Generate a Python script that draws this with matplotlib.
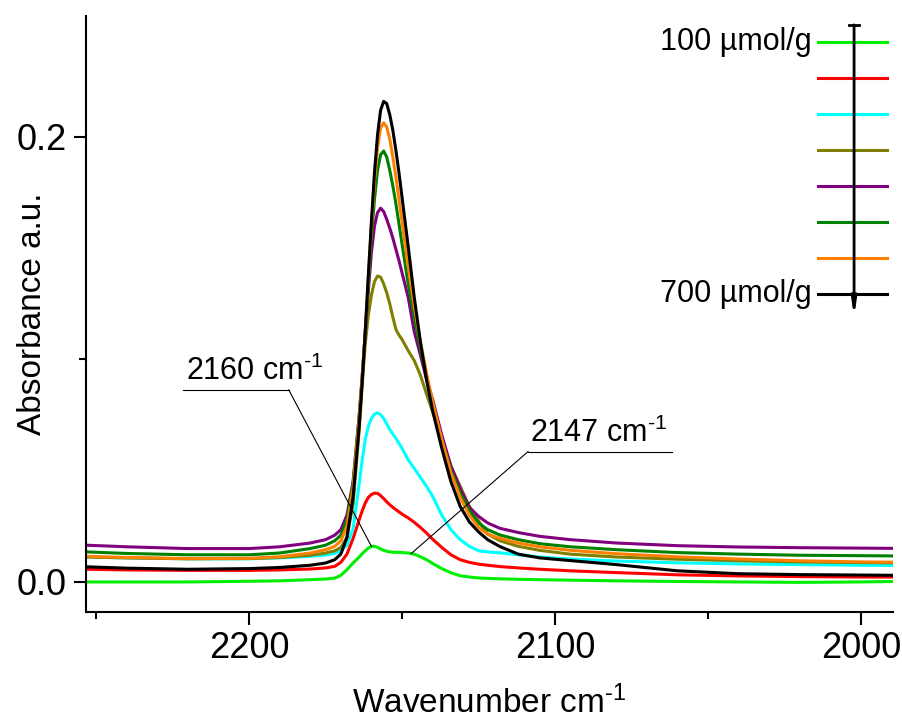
import numpy as np
import matplotlib
matplotlib.use("Agg")
import matplotlib.pyplot as plt
from matplotlib.ticker import MultipleLocator

plt.rcParams["font.family"] = ["Liberation Sans", "DejaVu Sans"]
plt.rcParams["mathtext.fontset"] = "custom"
plt.rcParams["mathtext.rm"] = "Liberation Sans"
plt.rcParams["mathtext.default"] = "regular"
plt.rcParams["axes.unicode_minus"] = False

# wavenumber grid (cm-1) shared by every spectrum
wavenumber = [2253, 2240, 2220, 2200, 2190, 2180, 2175, 2172, 2170, 2168,
              2166, 2164, 2163, 2162, 2161, 2160, 2159, 2158, 2157, 2156,
              2155, 2154, 2153, 2152, 2151, 2150, 2148, 2146, 2144, 2142,
              2140, 2137, 2134, 2131, 2128, 2125, 2122, 2118, 2112, 2105,
              2095, 2080, 2060, 2040, 2020, 2000, 1990]

abs_100 = [0.0000, 0.0000, 0.0000, 0.0003, 0.0005, 0.0010, 0.0013, 0.0017, 0.0030, 0.0055,
           0.0085, 0.0112, 0.0127, 0.0140, 0.0152, 0.0160, 0.0160, 0.0155, 0.0148, 0.0142,
           0.0138, 0.0135, 0.0134, 0.0133, 0.0133, 0.0132, 0.0130, 0.0125, 0.0113, 0.0100,
           0.0083, 0.0060, 0.0041, 0.0028, 0.0022, 0.0018, 0.0016, 0.0014, 0.0012, 0.0010,
           0.0008, 0.0005, 0.0002, 0.0000, -0.0002, 0.0000, 0.0002]
abs_200 = [0.0057, 0.0054, 0.0052, 0.0052, 0.0054, 0.0058, 0.0063, 0.0070, 0.0088, 0.0125,
           0.0195, 0.0280, 0.0320, 0.0355, 0.0380, 0.0393, 0.0399, 0.0398, 0.0388, 0.0375,
           0.0360, 0.0347, 0.0335, 0.0325, 0.0315, 0.0305, 0.0288, 0.0268, 0.0245, 0.0220,
           0.0192, 0.0155, 0.0122, 0.0100, 0.0088, 0.0080, 0.0075, 0.0069, 0.0063, 0.0057,
           0.0050, 0.0042, 0.0032, 0.0027, 0.0024, 0.0022, 0.0022]
abs_300 = [0.0112, 0.0108, 0.0104, 0.0104, 0.0108, 0.0115, 0.0121, 0.0128, 0.0140, 0.0165,
           0.0240, 0.0440, 0.0550, 0.0640, 0.0700, 0.0735, 0.0755, 0.0760, 0.0752, 0.0735,
           0.0710, 0.0685, 0.0665, 0.0645, 0.0623, 0.0600, 0.0550, 0.0510, 0.0470, 0.0430,
           0.0385, 0.0300, 0.0235, 0.0190, 0.0160, 0.0140, 0.0135, 0.0131, 0.0122, 0.0112,
           0.0103, 0.0094, 0.0086, 0.0081, 0.0078, 0.0075, 0.0074]
abs_400 = [0.0112, 0.0108, 0.0104, 0.0105, 0.0110, 0.0120, 0.0130, 0.0140, 0.0155, 0.0200,
           0.0350, 0.0680, 0.0890, 0.1070, 0.1200, 0.1290, 0.1350, 0.1375, 0.1370, 0.1340,
           0.1300, 0.1250, 0.1190, 0.1135, 0.1110, 0.1090, 0.1040, 0.0995, 0.0930, 0.0845,
           0.0765, 0.0640, 0.0520, 0.0430, 0.0340, 0.0275, 0.0215, 0.0185, 0.0160, 0.0142,
           0.0125, 0.0112, 0.0102, 0.0095, 0.0090, 0.0087, 0.0086]
abs_500 = [0.0165, 0.0158, 0.0150, 0.0150, 0.0158, 0.0175, 0.0190, 0.0210, 0.0235, 0.0300,
           0.0450, 0.0750, 0.0930, 0.1120, 0.1310, 0.1480, 0.1600, 0.1660, 0.1680, 0.1665,
           0.1630, 0.1590, 0.1545, 0.1495, 0.1445, 0.1390, 0.1280, 0.1125, 0.1020, 0.0910,
           0.0820, 0.0660, 0.0520, 0.0420, 0.0335, 0.0295, 0.0265, 0.0241, 0.0222, 0.0205,
           0.0190, 0.0175, 0.0163, 0.0157, 0.0154, 0.0152, 0.0151]
abs_600 = [0.0135, 0.0128, 0.0122, 0.0122, 0.0130, 0.0150, 0.0165, 0.0185, 0.0210, 0.0280,
           0.0440, 0.0740, 0.0920, 0.1120, 0.1340, 0.1550, 0.1720, 0.1850, 0.1920, 0.1937,
           0.1910, 0.1850, 0.1780, 0.1700, 0.1610, 0.1520, 0.1340, 0.1190, 0.1050, 0.0920,
           0.0800, 0.0640, 0.0500, 0.0400, 0.0320, 0.0265, 0.0235, 0.0211, 0.0190, 0.0172,
           0.0158, 0.0145, 0.0132, 0.0125, 0.0120, 0.0118, 0.0117]
abs_650 = [0.0115, 0.0110, 0.0105, 0.0106, 0.0113, 0.0130, 0.0145, 0.0160, 0.0185, 0.0250,
           0.0420, 0.0730, 0.0920, 0.1130, 0.1370, 0.1600, 0.1800, 0.1950, 0.2040, 0.2064,
           0.2045, 0.1990, 0.1910, 0.1820, 0.1720, 0.1620, 0.1420, 0.1240, 0.1080, 0.0940,
           0.0810, 0.0640, 0.0490, 0.0380, 0.0300, 0.0245, 0.0215, 0.0196, 0.0175, 0.0158,
           0.0142, 0.0127, 0.0113, 0.0103, 0.0095, 0.0090, 0.0089]
abs_700 = [0.0068, 0.0062, 0.0057, 0.0060, 0.0065, 0.0075, 0.0085, 0.0100, 0.0125, 0.0200,
           0.0380, 0.0700, 0.0900, 0.1130, 0.1380, 0.1620, 0.1840, 0.2010, 0.2120, 0.2160,
           0.2150, 0.2100, 0.2030, 0.1940, 0.1840, 0.1730, 0.1510, 0.1280, 0.1080, 0.0910,
           0.0770, 0.0600, 0.0450, 0.0340, 0.0270, 0.0225, 0.0190, 0.0159, 0.0125, 0.0108,
           0.0096, 0.0078, 0.0050, 0.0037, 0.0033, 0.0031, 0.0030]

spectra = [abs_100, abs_200, abs_300, abs_400, abs_500, abs_600, abs_650, abs_700]
colors = ["#00ee00", "#ff0000", "#00ffff", "#808000", "#800080", "#008000", "#ff8000", "#000000"]
legend_labels = ["100 \u00b5mol/g", "", "", "", "", "", "", "700 \u00b5mol/g"]

peak_main = 2160
peak_shoulder = 2147

unit = r"cm$^{\text{-1}}$"

fig = plt.figure(figsize=(9.03, 7.25), dpi=100)
ax = fig.add_axes([0.0952, 0.1559, 0.8938, 0.8221])

for y, c in zip(spectra, colors):
    ax.plot(wavenumber, y, color=c, lw=2.2, solid_joinstyle="round")

ax.set_xlim(2253.3, 1989.5)
ax.set_ylim(-0.0135, 0.2544)

for s in ["top", "right"]:
    ax.spines[s].set_visible(False)
for s in ["left", "bottom"]:
    ax.spines[s].set_linewidth(1.5)

ax.xaxis.set_major_locator(MultipleLocator(100))
ax.xaxis.set_minor_locator(MultipleLocator(50))
ax.yaxis.set_major_locator(MultipleLocator(0.2))
ax.yaxis.set_minor_locator(MultipleLocator(0.1))
ax.yaxis.set_major_formatter(plt.FormatStrFormatter("%.1f"))
ax.tick_params(which="major", direction="out", length=9, width=1.5, labelsize=26, pad=5)
ax.tick_params(which="minor", direction="out", length=5, width=1.5)

ax.set_xlabel("Wavenumber " + unit, fontsize=24)
ax.set_ylabel("Absorbance a.u.", fontsize=24)
ax.xaxis.set_label_coords(0.5, -0.152)
ax.xaxis.label.set_va("center")
ax.yaxis.set_label_coords(-0.066, 0.5)
ax.yaxis.label.set_va("center")

# peak annotations with underlined labels and leader lines
wn = np.array(wavenumber)[::-1]
y100 = np.array(abs_100)[::-1]
ann = [(peak_main, 2220.5, 0.0908, 0.0863, 2187.0),
       (peak_shoulder, 2108.2, 0.0631, 0.0586, 2061.8)]
for pk, tx, ty, uy, ux2 in ann:
    ax.text(tx, ty, f"{pk} " + unit, fontsize=22, ha="left", va="baseline")
    yp = np.interp(pk, wn, y100)
    if pk == peak_main:
        ax.plot([tx + 1, ux2], [uy, uy], color="black", lw=0.8)
        ax.plot([ux2, pk], [uy, yp], color="black", lw=0.8)
    else:
        ax.plot([tx + 0.6, ux2], [uy, uy], color="black", lw=0.8)
        ax.plot([tx + 0.6, pk], [uy, yp], color="black", lw=0.8)

# concentration key with arrow
x0, x1 = 0.907, 0.9926
ytop, step = 0.956, 0.0604
for i, (c, lab) in enumerate(zip(colors, legend_labels)):
    yy = ytop - i * step
    ax.plot([x0, x1], [yy, yy], color=c, lw=2.2, transform=ax.transAxes, clip_on=False)
    if lab:
        ax.text(0.8996, yy, lab, fontsize=22, ha="right", va="center", transform=ax.transAxes)

xa = 0.9517
ax.annotate("", xy=(xa, 0.495), xytext=(xa, 0.985), xycoords="axes fraction",
            arrowprops=dict(arrowstyle="-|>,head_length=1.0,head_width=0.15",
                            color="black", lw=2.0, shrinkA=0, shrinkB=0))
ax.plot([xa - 0.006, xa + 0.006], [0.985, 0.985], color="black", lw=2.0,
        transform=ax.transAxes, clip_on=False)

fig.savefig("out.png", dpi=100)
